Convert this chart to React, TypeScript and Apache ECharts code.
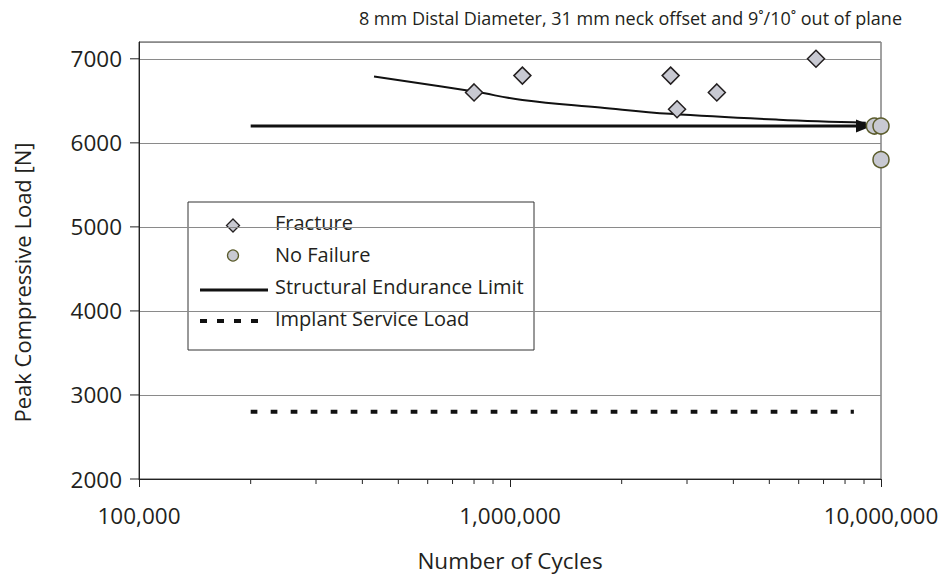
import React, { useEffect, useRef } from "react";
import * as echarts from "echarts";

const titleText = "8 mm Distal Diameter, 31 mm neck offset and 9˚/10˚ out of plane";
const xAxisName = "Number of Cycles";
const yAxisName = "Peak Compressive Load [N]";

const fractureCycles = [800000, 1080000, 2710000, 2820000, 3610000, 6680000];
const fractureLoads = [6600, 6800, 6800, 6400, 6600, 7000];

const noFailureCycles = [9600000, 10000000, 10000000];
const noFailureLoads = [6200, 6200, 5800];

const enduranceCycles = [430000, 800000, 1080000, 1750000, 2700000, 5300000, 9100000];
const enduranceLoads = [6790, 6610, 6510, 6420, 6345, 6275, 6240];

const arrowCycles = [200000, 9000000];
const arrowLoads = [6200, 6200];

const serviceCycles = [200000, 8450000];
const serviceLoads = [2800, 2800];

const yTickValues = [2000, 3000, 4000, 5000, 6000, 7000];
const xMinorTickValues = [
  200000, 300000, 400000, 500000, 600000, 700000, 800000, 900000,
  2000000, 3000000, 4000000, 5000000, 6000000, 7000000, 8000000, 9000000,
];

const legendLabels = ["Fracture", "No Failure", "Structural Endurance Limit", "Implant Service Load"];

const FONT = "'Open Sans', sans-serif";
const TEXT = "#231f20";
const MARK_FILL = "#c8c9d2";

export default function App() {
  const ref = useRef<HTMLDivElement>(null);

  useEffect(() => {
    if (!ref.current) return;
    const chart = echarts.init(ref.current, undefined, { renderer: "svg" });

    const yMin = 2000;
    const xMin = 100000;

    const option: any = {
      animation: false,
      backgroundColor: "#ffffff",
      textStyle: { fontFamily: FONT, color: TEXT },
      title: {
        text: titleText,
        right: 36,
        top: 4,
        textStyle: { fontFamily: FONT, fontSize: 18, fontWeight: "normal", color: TEXT },
      },
      grid: {
        left: 139,
        right: 62,
        top: 42,
        bottom: 95,
        containLabel: false,
        outerBoundsMode: "none",
        show: true,
        borderColor: "#444",
        borderWidth: 1,
        backgroundColor: "transparent",
      },
      xAxis: {
        type: "log",
        logBase: 10,
        min: 100000,
        max: 10000000,
        name: xAxisName,
        nameLocation: "middle",
        nameGap: 70,
        nameTextStyle: { fontFamily: FONT, fontSize: 22.5, lineHeight: 22, color: TEXT },
        axisLine: { show: true, lineStyle: { color: "#222", width: 1 } },
        axisTick: { show: true, inside: false, length: 8, lineStyle: { color: "#222" } },
        axisLabel: {
          fontFamily: FONT,
          fontSize: 22.5,
          color: TEXT,
          margin: 25,
          formatter: (v: number) => Math.round(v).toLocaleString("en-US"),
        },
        splitLine: { show: false },
        minorTick: { show: false },
      },
      yAxis: {
        type: "value",
        min: 2000,
        max: 7200,
        interval: 1000,
        name: yAxisName,
        nameLocation: "middle",
        nameGap: 106,
        nameTextStyle: { fontFamily: FONT, fontSize: 22, color: TEXT, padding: [0, 44, 0, 0] },
        axisLine: { show: true, lineStyle: { color: "#222", width: 1 } },
        axisTick: { show: false },
        axisLabel: {
          fontFamily: FONT,
          fontSize: 22.5,
          color: TEXT,
          margin: 17,
          formatter: (v: number) => (v % 1000 === 0 ? String(v) : ""),
        },
        splitLine: { show: true, lineStyle: { color: "#8a8a8a", width: 1 } },
      },
      series: [
        {
          name: "xMinorTicks",
          type: "custom",
          silent: true,
          clip: false,
          z: 1,
          data: xMinorTickValues.map((v) => [v, yMin]),
          renderItem: (params: any, api: any) => {
            const p = api.coord([api.value(0), api.value(1)]);
            return {
              type: "line",
              shape: { x1: p[0], y1: p[1], x2: p[0], y2: p[1] + 5 },
              style: { stroke: "#222", lineWidth: 1 },
            };
          },
        },
        {
          name: "yTicks",
          type: "custom",
          silent: true,
          clip: false,
          z: 1,
          data: yTickValues.map((v) => [xMin, v]),
          renderItem: (params: any, api: any) => {
            const p = api.coord([api.value(0), api.value(1)]);
            return {
              type: "line",
              shape: { x1: p[0] - 9, y1: p[1], x2: p[0] + 1, y2: p[1] },
              style: { stroke: "#222", lineWidth: 1 },
            };
          },
        },
        {
          name: legendLabels[3],
          type: "line",
          symbol: "none",
          silent: true,
          z: 3,
          data: serviceCycles.map((c, i) => [c, serviceLoads[i]]),
          lineStyle: { color: "#111", width: 4, type: [6.7, 13.3], cap: "butt" },
        },
        {
          name: legendLabels[2],
          type: "line",
          symbol: "none",
          smooth: 0.4,
          silent: true,
          z: 3,
          data: enduranceCycles.map((c, i) => [c, enduranceLoads[i]]),
          lineStyle: { color: "#111", width: 2 },
        },
        {
          name: "arrow",
          type: "line",
          silent: true,
          z: 4,
          showAllSymbol: true,
          data: [
            { value: [arrowCycles[0], arrowLoads[0]], symbol: "none" },
            {
              value: [arrowCycles[1], arrowLoads[1]],
              symbol: "triangle",
              symbolSize: [13, 16],
              symbolRotate: -90,
            },
          ],
          itemStyle: { color: "#111" },
          lineStyle: { color: "#111", width: 3 },
        },
        {
          name: legendLabels[0],
          type: "scatter",
          symbol: "diamond",
          symbolSize: 17,
          z: 5,
          data: fractureCycles.map((c, i) => [c, fractureLoads[i]]),
          itemStyle: { color: MARK_FILL, borderColor: "#231f20", borderWidth: 1.5, opacity: 1 },
        },
        {
          name: legendLabels[1],
          type: "scatter",
          symbol: "circle",
          symbolSize: 16,
          z: 6,
          clip: false,
          data: noFailureCycles.map((c, i) => [c, noFailureLoads[i]]),
          itemStyle: { color: MARK_FILL, borderColor: "#5b5c2c", borderWidth: 1.5, opacity: 1 },
        },
      ],
      graphic: [
        {
          type: "group",
          z: 100,
          children: [
            {
              type: "rect",
              shape: { x: 188, y: 202, width: 346, height: 148 },
              style: { fill: "#ffffff", stroke: "#333", lineWidth: 1 },
            },
            {
              type: "polygon",
              shape: { points: [[233, 219], [239.5, 225.5], [233, 232], [226.5, 225.5]] },
              style: { fill: MARK_FILL, stroke: "#231f20", lineWidth: 1.3 },
            },
            {
              type: "circle",
              shape: { cx: 233, cy: 255.5, r: 5.5 },
              style: { fill: MARK_FILL, stroke: "#5b5c2c", lineWidth: 1.3 },
            },
            {
              type: "line",
              shape: { x1: 200, y1: 290, x2: 268, y2: 290 },
              style: { stroke: "#111", lineWidth: 3 },
            },
            {
              type: "line",
              shape: { x1: 200, y1: 321, x2: 268, y2: 321 },
              style: { stroke: "#111", lineWidth: 4, lineDash: [7, 10] },
            },
            ...legendLabels.map((t, i) => ({
              type: "text",
              x: 275,
              y: [222, 254, 286, 318][i],
              style: {
                text: t,
                fontFamily: FONT,
                fontSize: 20,
                fill: TEXT,
                textVerticalAlign: "middle",
                verticalAlign: "middle",
                align: "left",
              },
            })),
          ],
        },
      ],
    };

    chart.setOption(option);
    return () => {
      chart.dispose();
    };
  }, []);

  return (
    <div
      ref={ref}
      style={{ position: "fixed", left: 0, top: 0, width: 943, height: 574 }}
    />
  );
}
